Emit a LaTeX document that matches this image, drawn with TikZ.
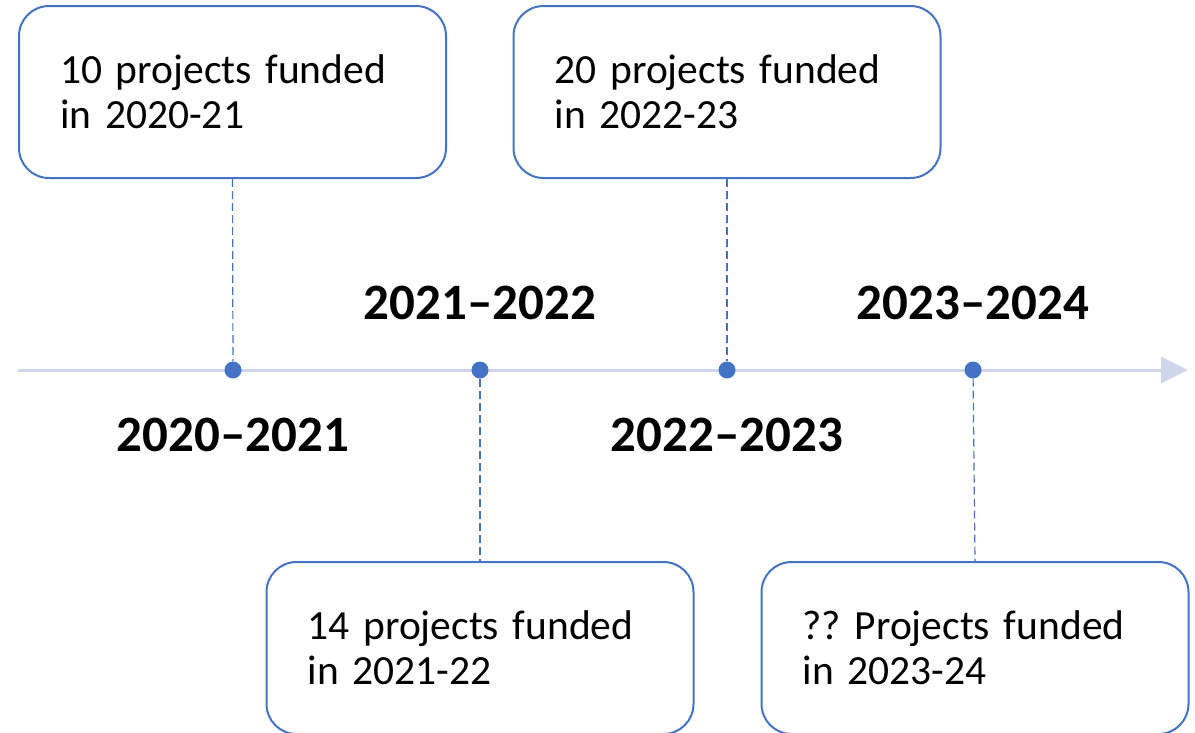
\documentclass[tikz,border=0pt]{standalone}
\usepackage{fontspec}
\setmainfont{Carlito}
\usetikzlibrary{arrows.meta}
\definecolor{lineblue}{HTML}{4472C4}
\definecolor{axisblue}{HTML}{CFD6EC}
\frenchspacing
\begin{document}
\begin{tikzpicture}[x=1pt,y=-1pt,
    fundbox/.style={draw=lineblue,line width=2pt,rounded corners=30pt,
      minimum width=427pt,minimum height=172pt,text width=345pt,
      align=left,inner xsep=41pt,
      font=\fontsize{41.5}{45}\selectfont},
    yearlabel/.style={font=\fontsize{51}{60}\selectfont\bfseries},
    yeardot/.style={circle,fill=lineblue,inner sep=0pt,minimum size=17pt},
    guide/.style={draw=lineblue,line width=1.2pt,dash pattern=on 8pt off 4pt}]

  \useasboundingbox (0,0) rectangle (1195,732);
  \clip (0,0) rectangle (1195,732);

  % time axis
  \coordinate (start) at (18,370);
  \coordinate (stop)  at (1188,370);
  \draw[axisblue,line width=3pt,-{Triangle[length=27pt,width=26pt]}] (start) -- (stop);

  \begin{scope}[every node/.style={yeardot}]
    \node (d1) at (233,370) {};
    \node (d2) at (480,370) {};
    \node (d3) at (727,370) {};
    \node (d4) at (973,370) {};
  \end{scope}

  \begin{scope}[every node/.style={fundbox}]
    \node (b1) at (232.5,92) {10 projects funded\\in 2020-21};
    \node (b2) at (727,92)   {20 projects funded\\in 2022-23};
    \node (b3) at (480,648)  {14 projects funded\\in 2021-22};
    \node (b4) at (975,648)  {?? Projects funded\\in 2023-24};
  \end{scope}

  \begin{scope}[every node/.style={yearlabel}]
    \node (y1) at (233,435) {2020--2021};
    \node (y2) at (480,303) {2021--2022};
    \node (y3) at (727,435) {2022--2023};
    \node (y4) at (973,303) {2023--2024};
  \end{scope}

  \path[guide] (b1.south) -- (d1);
  \path[guide] (d2) -- (b3.north);
  \path[guide] (b2.south) -- (d3);
  \path[guide] (d4) -- (b4.north);

\end{tikzpicture}
\end{document}
